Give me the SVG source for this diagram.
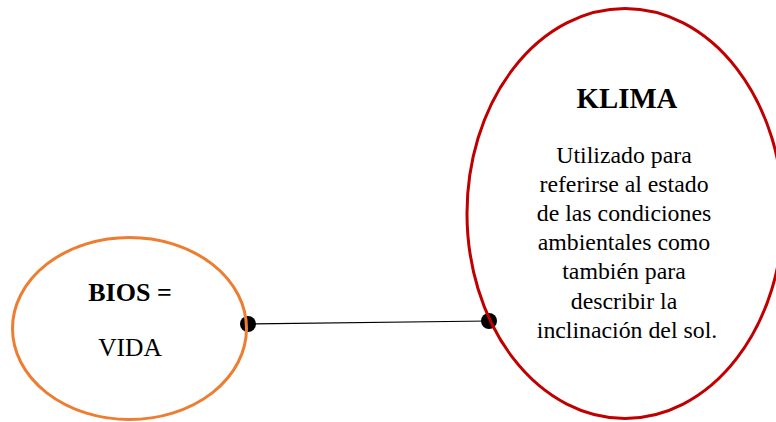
<svg xmlns="http://www.w3.org/2000/svg" width="776" height="422" viewBox="0 0 776 422">
<style>
text{font-family:"Liberation Serif","Times New Roman",serif;fill:#000;text-anchor:middle}
.t{font-weight:bold}
.b{font-size:23.8px}
</style>
<rect width="776" height="422" fill="#fff"/>
<g id="connectors">
<line x1="248" y1="324" x2="489" y2="321" stroke="#000" stroke-width="1.2"/>
<circle cx="248" cy="324" r="8" fill="#000"/>
<circle cx="489" cy="321" r="8" fill="#000"/>
</g>
<g id="bios">
<ellipse cx="129.5" cy="328.5" rx="117" ry="91" fill="none" stroke="#ED7D31" stroke-width="3"/>
<text x="130" y="301" class="t" font-size="26">BIOS =</text>
<text x="130" y="356" font-size="25.5">VIDA</text>
</g>
<g id="klima">
<ellipse cx="625" cy="213.5" rx="158" ry="205" fill="none" stroke="#C00000" stroke-width="3"/>
<text x="627" y="108" class="t" font-size="28.8">KLIMA</text>
<text class="b" x="627">
<tspan x="627" y="163">Utilizado para</tspan>
<tspan x="627" y="192.1">referirse al estado</tspan>
<tspan x="627" y="221.2">de las condiciones</tspan>
<tspan x="627" y="250.3">ambientales como</tspan>
<tspan x="627" y="279.4">también para</tspan>
<tspan x="627" y="308.5">describir la</tspan>
<tspan x="627" y="337.6">inclinación del sol.</tspan>
</text>
</g>
</svg>
